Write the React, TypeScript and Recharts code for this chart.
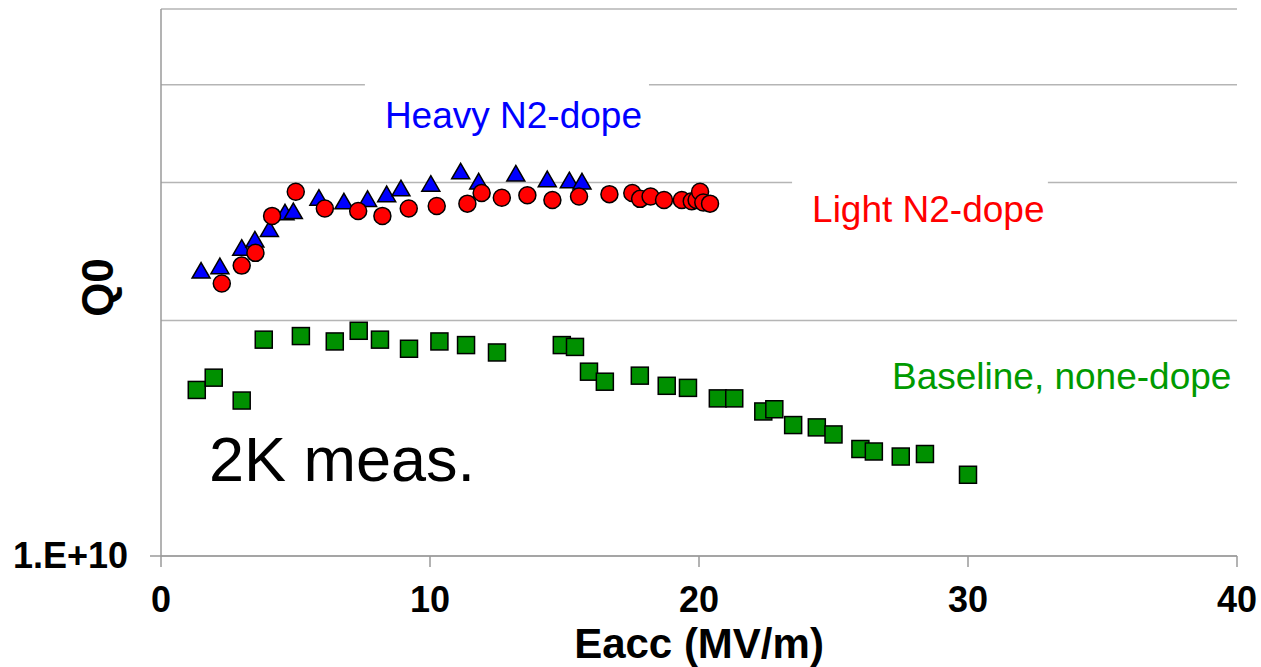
import React from "react";
import {
  ScatterChart,
  Scatter,
  XAxis,
  YAxis,
  CartesianGrid,
  ReferenceArea,
} from "recharts";

// Eacc (MV/m) and Q0 (in units of 1E10)
const heavyE = [1.49, 2.19, 3.0, 3.49, 4.03, 4.61, 4.92, 5.87, 6.8, 7.68, 8.39, 8.92, 10.03, 11.14, 11.81, 13.19, 14.36, 15.18, 15.65];
const heavyQ0 = [2.30, 2.33, 2.46, 2.52, 2.60, 2.73, 2.74, 2.85, 2.82, 2.84, 2.88, 2.93, 2.97, 3.08, 2.99, 3.06, 3.01, 3.0, 2.99];

const lightE = [2.26, 3.0, 3.51, 4.13, 5.01, 6.09, 7.33, 8.23, 9.21, 10.25, 11.39, 11.92, 12.67, 13.62, 14.55, 15.54, 16.67, 17.52, 17.81, 18.2, 18.7, 19.36, 19.73, 19.91, 20.04, 20.16, 20.41];
const lightQ0 = [2.23, 2.35, 2.44, 2.72, 2.92, 2.78, 2.76, 2.72, 2.78, 2.8, 2.82, 2.91, 2.87, 2.89, 2.85, 2.88, 2.9, 2.91, 2.86, 2.88, 2.85, 2.85, 2.84, 2.85, 2.92, 2.83, 2.82];

const baseE = [1.33, 1.96, 3.0, 3.82, 5.2, 6.46, 7.35, 8.14, 9.22, 10.35, 11.34, 12.49, 14.9, 15.39, 15.91, 16.5, 17.8, 18.8, 19.59, 20.7, 21.31, 22.39, 22.8, 23.5, 24.38, 25.0, 26.0, 26.5, 27.5, 28.4, 30.0];
const baseQ0 = [1.63, 1.69, 1.58, 1.89, 1.91, 1.88, 1.94, 1.89, 1.84, 1.88, 1.86, 1.82, 1.86, 1.85, 1.72, 1.67, 1.70, 1.65, 1.64, 1.59, 1.59, 1.53, 1.54, 1.47, 1.46, 1.43, 1.37, 1.36, 1.34, 1.35, 1.27];

const xTicks = [0, 10, 20, 30, 40];
const yTicks = [1e10, 2e10, 3e10, 4e10, 5e10];

const toPoints = (xs: number[], ys: number[]) =>
  xs.map((x, i) => ({ eacc: x, q0: ys[i] * 1e10 }));

const heavy = toPoints(heavyE, heavyQ0);
const light = toPoints(lightE, lightQ0);
const base = toPoints(baseE, baseQ0);

const FONT = "'Liberation Sans', Arial, sans-serif";
const AXIS = "#9a9a9a";
const GRID = "#b5b5b5";

const Circle = (p: any) => (
  <circle cx={p.cx} cy={p.cy} r={8.5} fill="#ff0000" stroke="#000" strokeWidth={1.5} />
);

const Triangle = (p: any) => {
  const s = 18;
  const h = (s * Math.sqrt(3)) / 2;
  const { cx, cy } = p;
  return (
    <path
      d={`M${cx},${cy - (2 * h) / 3}L${cx + s / 2},${cy + h / 3}L${cx - s / 2},${cy + h / 3}Z`}
      fill="#0000ff"
      stroke="#000"
      strokeWidth={1.5}
      strokeLinejoin="miter"
    />
  );
};

const Square = (p: any) => (
  <rect x={p.cx - 8.5} y={p.cy - 8.5} width={17} height={17} fill="#009000" stroke="#000" strokeWidth={1.5} />
);

const XTick = (p: any) => (
  <text x={p.x} y={p.y + 43} textAnchor="middle" fontFamily={FONT} fontWeight="bold" fontSize={36} fill="#000">
    {p.payload.value}
  </text>
);

const YTick = (p: any) => {
  if (p.payload.value !== 1e10) return <g />;
  return (
    <g>
      <line x1={p.x} x2={p.x + 11} y1={p.y} y2={p.y} stroke={AXIS} strokeWidth={1.5} />
      <text x={p.x - 22} y={p.y + 12} textAnchor="end" fontFamily={FONT} fontWeight="bold" fontSize={36} fill="#000">
        1.E+10
      </text>
    </g>
  );
};

const BoxText = ({ viewBox, text, color, size, dx, dy }: any) => (
  <text x={viewBox.x + dx} y={viewBox.y + dy} fontFamily={FONT} fontSize={size} fill={color}>
    {text}
  </text>
);

export default function App() {
  return (
    <div style={{ position: "absolute", left: 0, top: 0, width: 1261, height: 667, background: "#fff" }}>
      <ScatterChart width={1261} height={667} margin={{ top: 9, right: 24, bottom: 0, left: 0 }}>
        <CartesianGrid vertical={false} stroke={GRID} strokeWidth={1.5} />
        <XAxis
          type="number"
          dataKey="eacc"
          domain={[0, 40]}
          ticks={xTicks}
          height={111}
          stroke={AXIS}
          strokeWidth={1.5}
          tickSize={11}
          tick={<XTick />}
          label={(props: any) => {
            const vb = props.viewBox;
            return (
              <text x={vb.x + vb.width / 2} y={vb.y + 102} textAnchor="middle" fontFamily={FONT} fontWeight="bold" fontSize={42} fill="#000">
                Eacc (MV/m)
              </text>
            );
          }}
        />
        <YAxis
          type="number"
          dataKey="q0"
          scale="log"
          domain={[1e10, 5e10]}
          allowDataOverflow
          ticks={yTicks}
          width={161}
          stroke={AXIS}
          strokeWidth={1.5}
          tickLine={false}
          tickSize={11}
          tickMargin={0}
          tick={<YTick />}
          label={(props: any) => {
            const vb = props.viewBox;
            const cy = vb.y + vb.height / 2 + 5;
            return (
              <text x={113} y={cy} transform={`rotate(-90, 113, ${cy})`} textAnchor="middle" fontFamily={FONT} fontWeight="bold" fontSize={44} fill="#000">
                Q0
              </text>
            );
          }}
        />
        <ReferenceArea
          x1={7.58}
          x2={18.14}
          y1={3.3e10}
          y2={4.11e10}
          fill="#fff"
          fillOpacity={1}
          stroke="none"
          label={<BoxText text="Heavy N2-dope" color="#0000ff" size={37} dx={20} dy={52} />}
        />
        <ReferenceArea
          x1={23.46}
          x2={32.97}
          y1={2.536e10}
          y2={3.115e10}
          fill="#fff"
          fillOpacity={1}
          stroke="none"
          label={<BoxText text="Light N2-dope" color="#ff0000" size={37} dx={20} dy={52} />}
        />
        <ReferenceArea
          x1={26.43}
          x2={39.5}
          y1={1.551e10}
          y2={1.905e10}
          fill="none"
          stroke="none"
          label={<BoxText text="Baseline, none-dope" color="#009a00" size={37} dx={20} dy={52} />}
        />
        <ReferenceArea
          x1={1.04}
          x2={12}
          y1={1.179e10}
          y2={1.537e10}
          fill="none"
          stroke="none"
          label={<BoxText text="2K meas." color="#000" size={63} dx={20} dy={71} />}
        />
        <Scatter data={base} shape={Square} isAnimationActive={false} />
        <Scatter data={heavy} shape={Triangle} isAnimationActive={false} />
        <Scatter data={light} shape={Circle} isAnimationActive={false} />
      </ScatterChart>
    </div>
  );
}
